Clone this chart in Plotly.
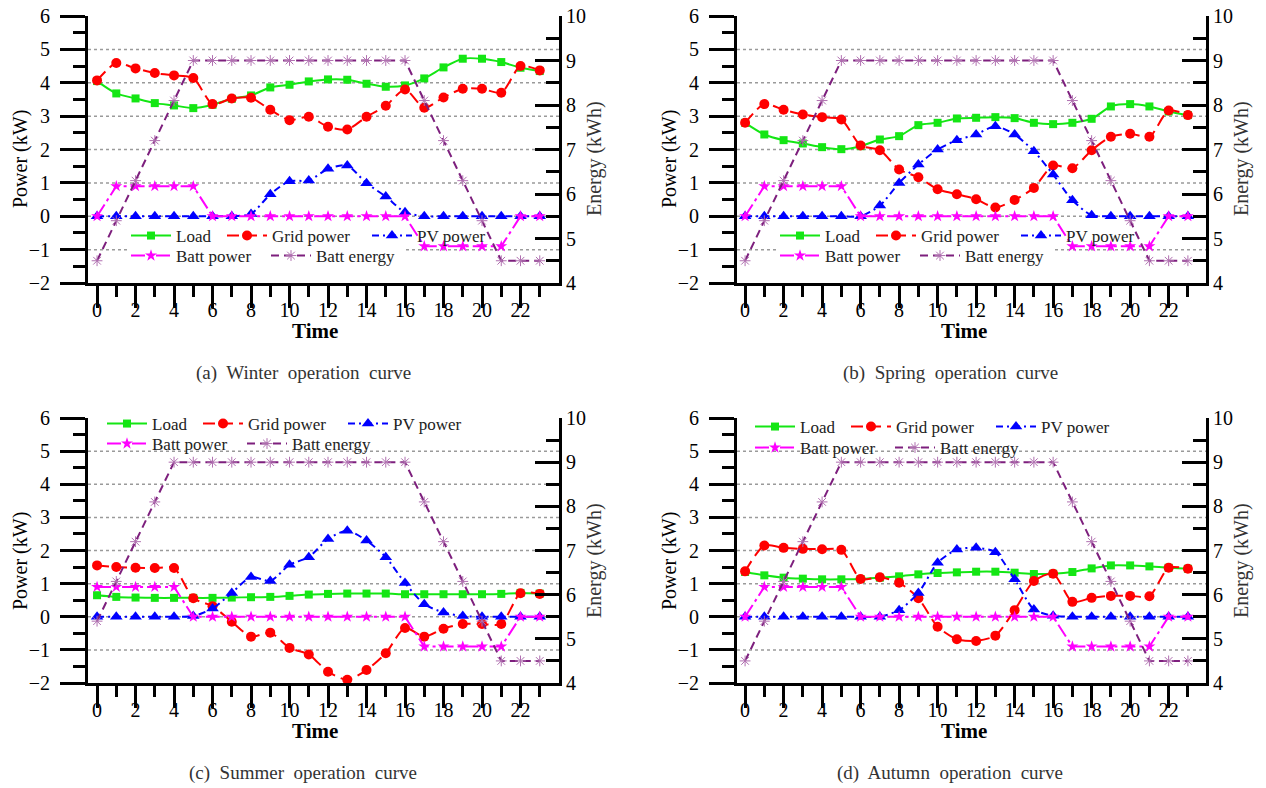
import plotly.graph_objects as go

W, H = 1266, 788

hours = list(range(24))
x_tick_vals = list(range(0, 24, 2))
x_minor_vals = list(range(1, 24, 2))
power_tick_vals = [-2, -1, 0, 1, 2, 3, 4, 5, 6]
power_minor_vals = [-1.5, -0.5, 0.5, 1.5, 2.5, 3.5, 4.5, 5.5]
energy_tick_vals = [4, 5, 6, 7, 8, 9, 10]
energy_minor_vals = [4.5, 5.5, 6.5, 7.5, 8.5, 9.5]
power_grid_levels = [-1, 0, 1, 2, 3, 4, 5]

series_names = ["Load", "Grid power", "PV power", "Batt power", "Batt energy"]

winter_load = [4.05, 3.68, 3.53, 3.39, 3.32, 3.24, 3.34, 3.52, 3.62, 3.86, 3.94, 4.04,
               4.10, 4.09, 3.97, 3.88, 3.92, 4.13, 4.46, 4.72, 4.72, 4.62, 4.45, 4.35]
winter_grid = [4.07, 4.59, 4.43, 4.29, 4.22, 4.14, 3.36, 3.53, 3.55, 3.19, 2.88, 2.98,
               2.68, 2.60, 2.98, 3.31, 3.80, 3.25, 3.56, 3.82, 3.82, 3.70, 4.50, 4.37]
winter_pv = [0, 0, 0, 0, 0, 0, 0, 0, 0.07, 0.66, 1.05, 1.07,
             1.42, 1.52, 0.99, 0.59, 0.12, 0, 0, 0, 0, 0, 0, 0]
winter_batt = [0, 0.9, 0.9, 0.9, 0.9, 0.9, 0, 0, 0, 0, 0, 0,
               0, 0, 0, 0, 0, -0.9, -0.9, -0.9, -0.9, -0.9, 0, 0]
winter_energy = [4.5, 5.4, 6.3, 7.2, 8.1, 9, 9, 9, 9, 9, 9, 9,
                 9, 9, 9, 9, 9, 8.1, 7.2, 6.3, 5.4, 4.5, 4.5, 4.5]

spring_load = [2.80, 2.45, 2.28, 2.18, 2.07, 2.01, 2.10, 2.30, 2.40, 2.73, 2.80, 2.93,
               2.95, 2.97, 2.94, 2.80, 2.76, 2.80, 2.92, 3.29, 3.36, 3.29, 3.14, 3.03]
spring_grid = [2.80, 3.36, 3.19, 3.05, 2.97, 2.90, 2.12, 1.98, 1.40, 1.17, 0.81, 0.66,
               0.51, 0.26, 0.49, 0.85, 1.52, 1.44, 1.98, 2.38, 2.47, 2.38, 3.17, 3.03]
spring_pv = [0, 0, 0, 0, 0, 0, 0, 0.32, 1.00, 1.55, 2.00, 2.28,
             2.45, 2.70, 2.45, 1.95, 1.25, 0.48, 0.03, 0, 0, 0, 0, 0]
spring_batt = [0, 0.9, 0.9, 0.9, 0.9, 0.9, 0, 0, 0, 0, 0, 0,
               0, 0, 0, 0, 0, -0.9, -0.9, -0.9, -0.9, -0.9, 0, 0]
spring_energy = [4.5, 5.4, 6.3, 7.2, 8.1, 9, 9, 9, 9, 9, 9, 9,
                 9, 9, 9, 9, 9, 8.1, 7.2, 6.3, 5.4, 4.5, 4.5, 4.5]

summer_load = [0.65, 0.60, 0.58, 0.57, 0.57, 0.57, 0.57, 0.58, 0.59, 0.60, 0.63, 0.67,
               0.69, 0.70, 0.70, 0.70, 0.68, 0.68, 0.68, 0.68, 0.68, 0.69, 0.72, 0.70]
summer_grid = [1.55, 1.50, 1.48, 1.47, 1.47, 0.56, 0.32, -0.15, -0.60, -0.48, -0.94, -1.14,
               -1.66, -1.90, -1.61, -1.10, -0.34, -0.60, -0.36, -0.22, -0.22, -0.22, 0.71, 0.69]
summer_pv = [0, 0, 0, 0, 0, 0.02, 0.25, 0.72, 1.20, 1.08, 1.57, 1.80,
             2.35, 2.60, 2.30, 1.80, 1.02, 0.38, 0.13, 0.02, 0, 0, 0, 0]
summer_batt = [0.9, 0.9, 0.9, 0.9, 0.9, 0, 0, 0, 0, 0, 0, 0,
               0, 0, 0, 0, 0, -0.9, -0.9, -0.9, -0.9, -0.9, 0, 0]
summer_energy = [5.4, 6.3, 7.2, 8.1, 9, 9, 9, 9, 9, 9, 9, 9,
                 9, 9, 9, 9, 9, 8.1, 7.2, 6.3, 5.4, 4.5, 4.5, 4.5]

autumn_load = [1.35, 1.25, 1.18, 1.15, 1.13, 1.13, 1.14, 1.18, 1.22, 1.28, 1.32, 1.34,
               1.36, 1.36, 1.33, 1.29, 1.30, 1.35, 1.46, 1.55, 1.55, 1.52, 1.48, 1.45]
autumn_grid = [1.37, 2.15, 2.08, 2.05, 2.04, 2.02, 1.14, 1.19, 1.03, 0.56, -0.30, -0.68,
               -0.73, -0.57, 0.20, 1.08, 1.30, 0.45, 0.57, 0.63, 0.63, 0.62, 1.48, 1.45]
autumn_pv = [0, 0, 0, 0, 0, 0, 0, 0, 0.20, 0.72, 1.63, 2.03,
             2.08, 1.95, 1.13, 0.22, 0.03, 0, 0, 0, 0, 0, 0, 0]
autumn_batt = [0, 0.9, 0.9, 0.9, 0.9, 0.9, 0, 0, 0, 0, 0, 0,
               0, 0, 0, 0, 0, -0.9, -0.9, -0.9, -0.9, -0.9, 0, 0]
autumn_energy = [4.5, 5.4, 6.3, 7.2, 8.1, 9, 9, 9, 9, 9, 9, 9,
                 9, 9, 9, 9, 9, 8.1, 7.2, 6.3, 5.4, 4.5, 4.5, 4.5]

captions = ["(a)\u00a0 Winter\u00a0 operation\u00a0 curve",
            "(b)\u00a0 Spring\u00a0 operation\u00a0 curve",
            "(c)\u00a0 Summer\u00a0 operation\u00a0 curve",
            "(d)\u00a0 Autumn\u00a0 operation\u00a0 curve"]

panels = [
    dict(data=(winter_load, winter_grid, winter_pv, winter_batt, winter_energy),
         px=(88, 559), py=(16, 283), xr=(-0.47, 24.0),
         legx=(132, 228, 373, 132, 272), legy=(236, 256), legbox=True, cap=(303, 373)),
    dict(data=(spring_load, spring_grid, spring_pv, spring_batt, spring_energy),
         px=(737, 1206), py=(16, 283), xr=(-0.42, 23.94),
         legx=(781, 877, 1022, 781, 921), legy=(236, 256), legbox=True, cap=(950, 373)),
    dict(data=(summer_load, summer_grid, summer_pv, summer_batt, summer_energy),
         px=(88, 559), py=(418, 683), xr=(-0.47, 24.0),
         legx=(108, 204, 349, 108, 248), legy=(424, 444), legbox=False, cap=(303, 773)),
    dict(data=(autumn_load, autumn_grid, autumn_pv, autumn_batt, autumn_energy),
         px=(737, 1206), py=(418, 683), xr=(-0.42, 23.94),
         legx=(756, 852, 997, 756, 896), legy=(427, 448), legbox=False, cap=(950, 773)),
]

styles = [
    dict(color="#14e614", dash="solid", shape="spline", symbol="square", size=8),
    dict(color="#ff0000", dash="12px,6px", shape="spline", symbol="circle", size=10),
    dict(color="#0000ff", dash="7px,4px,2px,4px", shape="spline", symbol="triangle-up", size=11),
    dict(color="#ff00ff", dash="14px,4px,3px,4px", shape="linear", symbol="star", size=9),
    dict(color="#7d1f7d", dash="8px,5px", shape="linear", symbol="asterisk-open", size=9),
]

FONT = "Liberation Serif"
fig = go.Figure()
layout = dict(width=W, height=H, margin=dict(l=0, r=0, t=0, b=0),
              paper_bgcolor="white", plot_bgcolor="white", showlegend=True)
annotations = []
shapes = []
legend_counter = 0

for i, p in enumerate(panels):
    n = i + 1
    xa = "x" if n == 1 else f"x{n}"
    yl_n = 2 * i + 1
    yr_n = 2 * i + 2
    yl = "y" if yl_n == 1 else f"y{yl_n}"
    yr = f"y{yr_n}"

    xd = [p["px"][0] / W, p["px"][1] / W]
    yd = [1 - p["py"][1] / H, 1 - p["py"][0] / H]

    layout["xaxis" if n == 1 else f"xaxis{n}"] = dict(
        domain=xd, anchor=yl, range=list(p["xr"]), showgrid=False, zeroline=False,
        showline=True, linecolor="black", linewidth=3,
        tickmode="array", tickvals=x_tick_vals, ticks="outside", ticklen=22, tickwidth=3,
        tickcolor="black", ticklabelstandoff=-15,
        tickfont=dict(family=FONT, size=20, color="black"),
        minor=dict(tickmode="array", tickvals=x_minor_vals, ticks="outside", ticklen=11,
                   tickwidth=3, tickcolor="black", showgrid=False),
        automargin=False)
    layout["yaxis" if yl_n == 1 else f"yaxis{yl_n}"] = dict(
        domain=yd, anchor=xa, range=[-2, 6], showgrid=False, zeroline=False,
        showline=True, linecolor="black", linewidth=3,
        tickmode="array", tickvals=power_tick_vals,
        ticks="outside", ticklen=25, tickwidth=3, tickcolor="black",
        ticklabelstandoff=6,
        tickfont=dict(family=FONT, size=20, color="black"),
        minor=dict(tickmode="array", tickvals=power_minor_vals, ticks="outside", ticklen=12,
                   tickwidth=3, tickcolor="black", showgrid=False),
        automargin=False)
    layout[f"yaxis{yr_n}"] = dict(
        domain=yd, anchor=xa, overlaying=yl, side="right", range=[4, 10], showgrid=False,
        zeroline=False, showline=True, linecolor="black", linewidth=3,
        tickmode="array", tickvals=energy_tick_vals,
        ticks="inside", ticklen=24, tickwidth=3, tickcolor="black",
        tickfont=dict(family=FONT, size=20, color="black"),
        minor=dict(tickmode="array", tickvals=energy_minor_vals, ticks="inside", ticklen=13,
                   tickwidth=3, tickcolor="black", showgrid=False),
        automargin=False)

    for lvl in power_grid_levels:
        shapes.append(dict(type="line", xref=f"{xa} domain", x0=0, x1=1, yref=yl, y0=lvl, y1=lvl,
                           line=dict(color="#9a9a9a", width=1.5, dash="dot"), layer="below"))

    if p["legbox"]:
        # white background behind the second legend row (hides the grid line there)
        x0 = p["legx"][3] - 4
        shapes.append(dict(type="rect", xref="paper", yref="paper",
                           x0=x0 / W, x1=(x0 + 278) / W,
                           y0=1 - (p["legy"][1] + 9) / H, y1=1 - (p["legy"][1] - 7) / H,
                           fillcolor="white", line=dict(width=0), layer="above"))

    for k, (name, vals, st) in enumerate(zip(series_names, p["data"], styles)):
        legend_counter += 1
        lid = "legend" if legend_counter == 1 else f"legend{legend_counter}"
        marker = dict(symbol=st["symbol"], size=st["size"], color=st["color"])
        if st["symbol"] == "asterisk-open":
            marker = dict(symbol="asterisk-open", size=st["size"], color="#b070b0",
                          line=dict(color="#b070b0", width=1))
        fig.add_trace(go.Scatter(
            x=hours, y=vals, name=name, mode="lines+markers",
            xaxis=xa, yaxis=(yr if k == 4 else yl),
            line=dict(color=st["color"], width=2, dash=st["dash"], shape=st["shape"],
                      smoothing=0.7 if st["shape"] == "spline" else None),
            marker=marker, legend=lid, showlegend=True))
        ly = p["legy"][0] if k < 3 else p["legy"][1]
        layout[lid] = dict(x=(p["legx"][k] - 6) / W, y=1 - ly / H, xanchor="left",
                           yanchor="middle", orientation="h", bgcolor="rgba(0,0,0,0)",
                           borderwidth=0, font=dict(family=FONT, size=17, color="#222"),
                           itemwidth=40)

    annotations.append(dict(text="Time", xref="paper", yref="paper",
                            x=(p["px"][0] + 227) / W, y=1 - (p["py"][1] + 48) / H,
                            xanchor="center", yanchor="middle", showarrow=False,
                            font=dict(family=FONT, size=21, color="black", weight="bold")))
    annotations.append(dict(text="Power (kW)", xref="paper", yref="paper",
                            x=(p["px"][0] - 68) / W, y=1 - (p["py"][0] + 143) / H,
                            xanchor="center", yanchor="middle", textangle=-90, showarrow=False,
                            font=dict(family=FONT, size=20, color="black")))
    annotations.append(dict(text="Energy (kWh)", xref="paper", yref="paper",
                            x=(p["px"][1] + 35) / W, y=1 - (p["py"][0] + 143) / H,
                            xanchor="center", yanchor="middle", textangle=-90, showarrow=False,
                            font=dict(family=FONT, size=20, color="#333")))
    annotations.append(dict(text=captions[i], xref="paper", yref="paper",
                            x=p["cap"][0] / W, y=1 - p["cap"][1] / H,
                            xanchor="center", yanchor="middle", showarrow=False,
                            font=dict(family=FONT, size=19, color="#333")))

layout["annotations"] = annotations
layout["shapes"] = shapes
fig.update_layout(**layout)

# remove the browser's default page margin so the figure sits at the window origin
fig.write_html("out.html", post_script="document.body.style.margin = '0';")
